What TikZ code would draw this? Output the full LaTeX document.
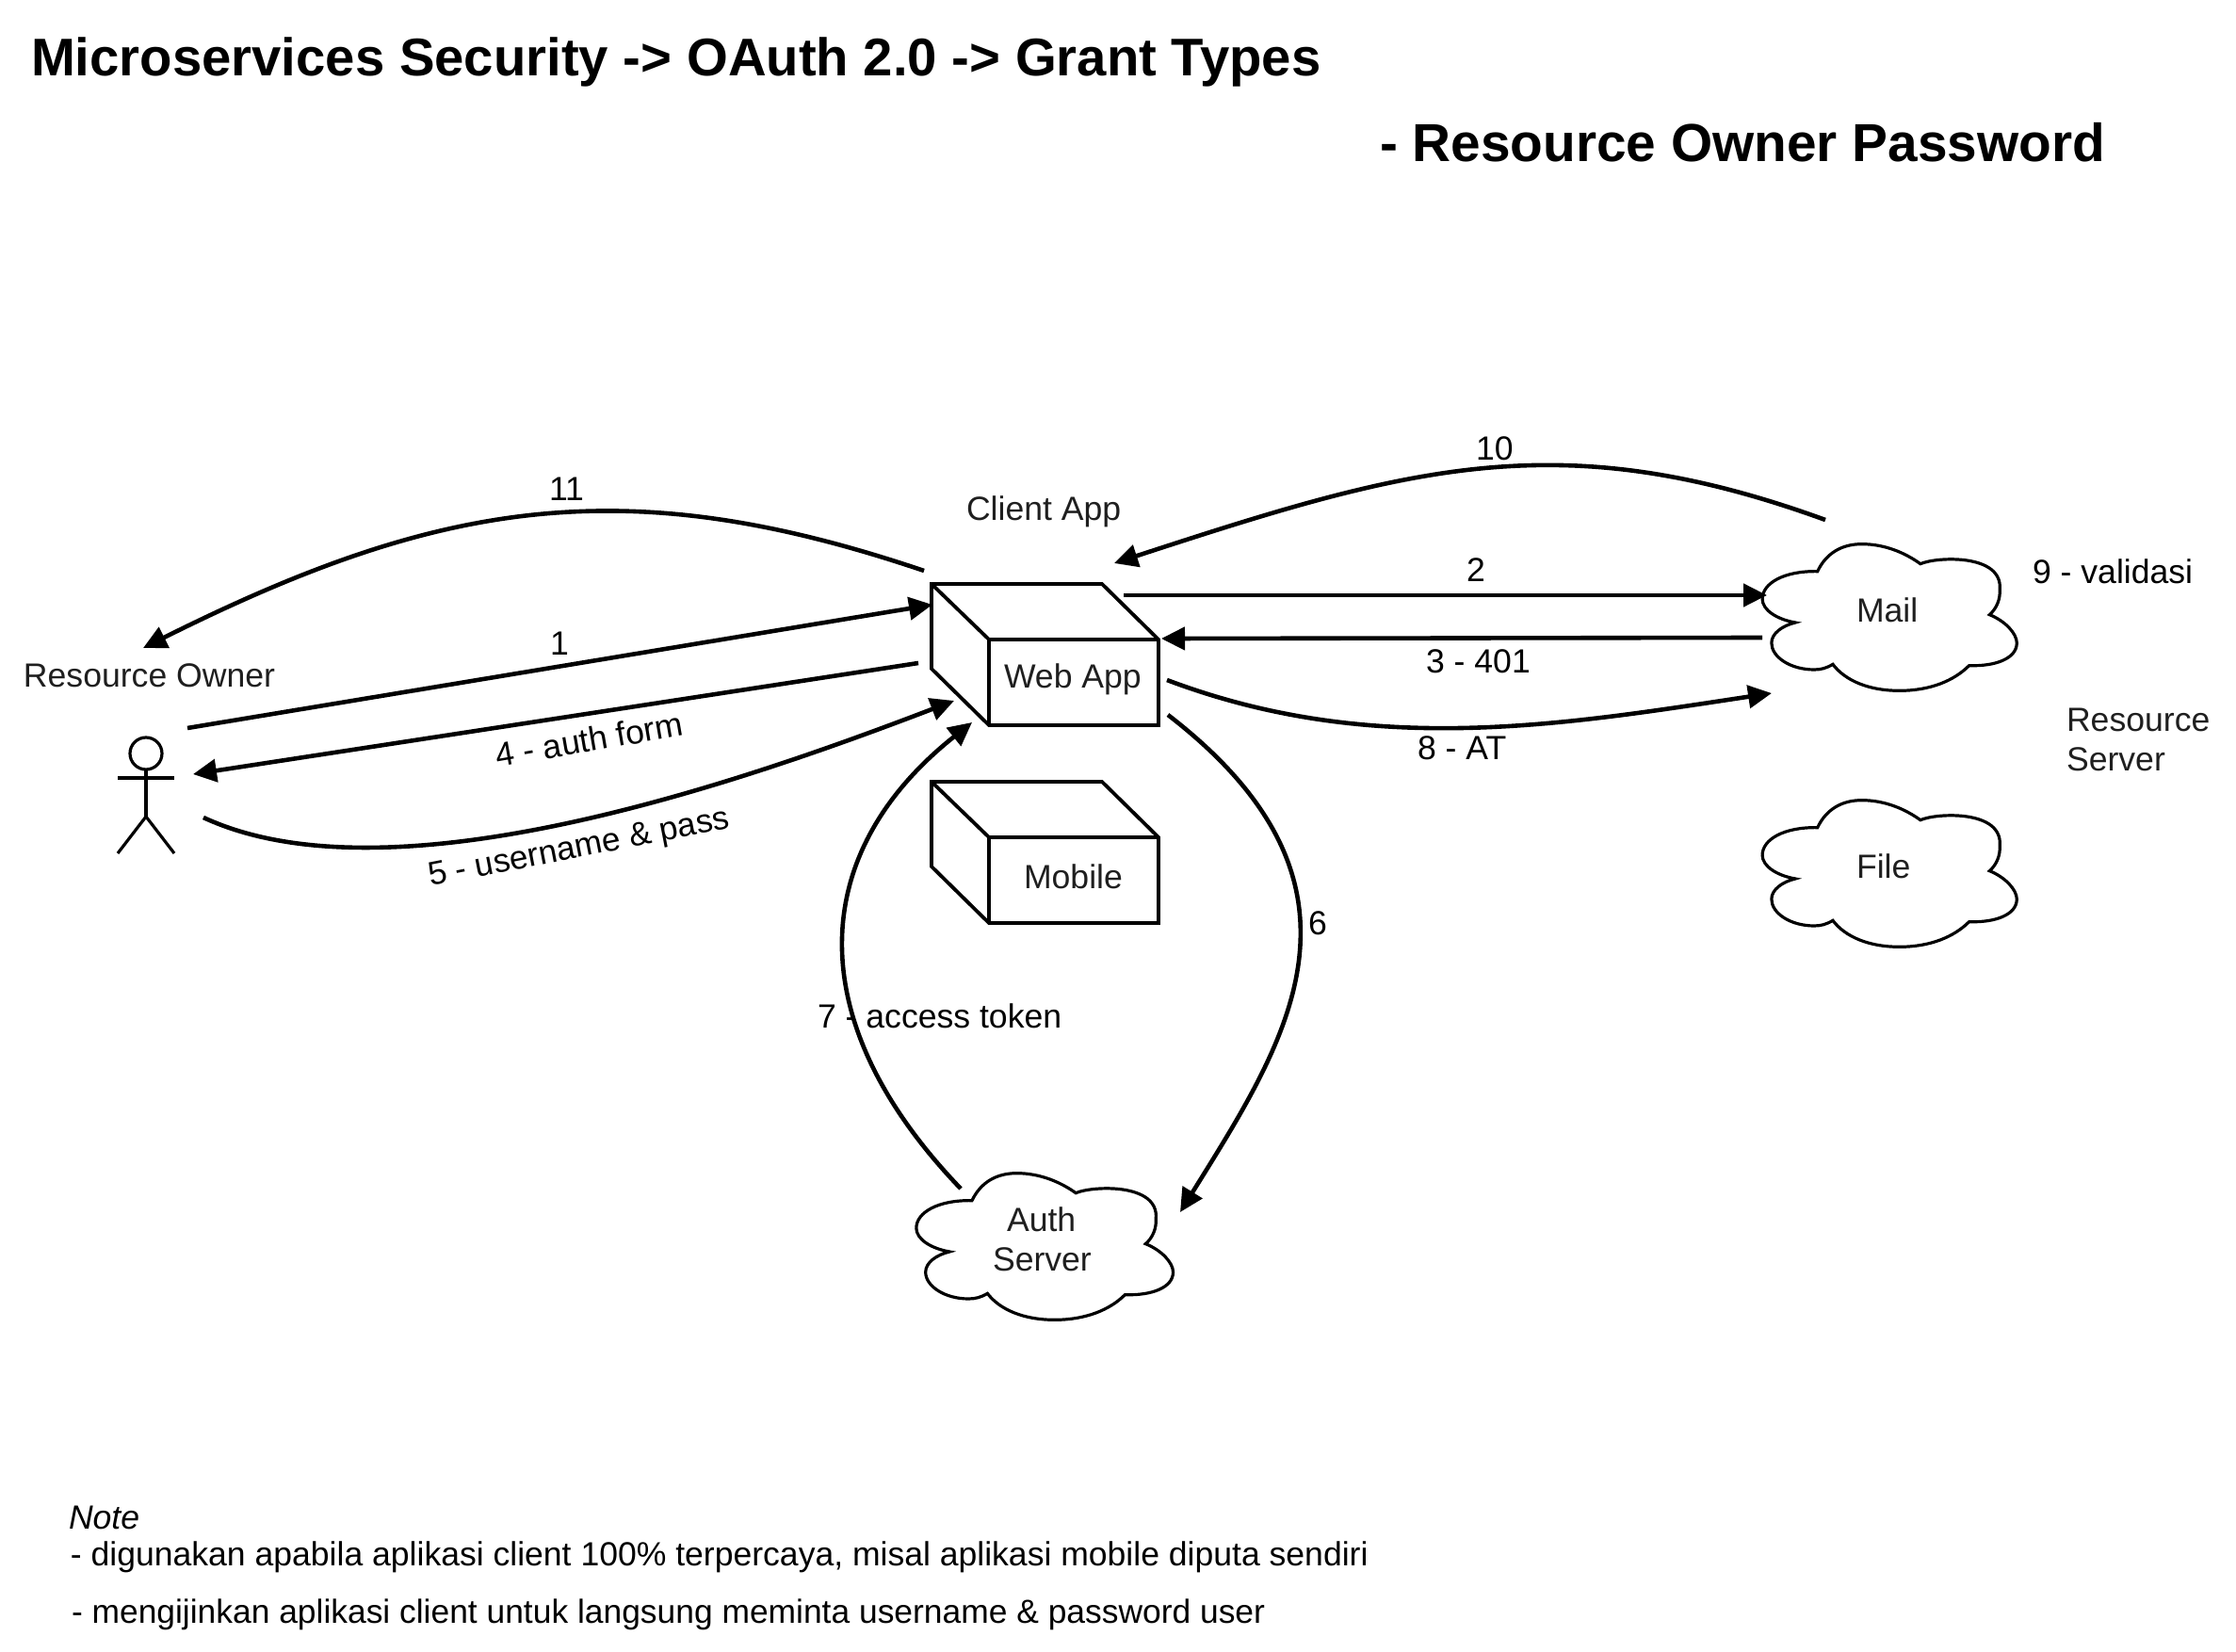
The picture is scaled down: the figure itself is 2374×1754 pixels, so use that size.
\documentclass[tikz,border=0pt]{standalone}
\usepackage{fontspec}
\setmainfont{Liberation Sans}
\usetikzlibrary{arrows.meta}
\tikzset{
  x=0.5pt,y=-0.5pt,
  txt/.style={anchor=base west,inner sep=0pt,outer sep=0pt,font=\fontsize{17.8}{20}\selectfont},
  shapetxt/.style={txt,text=black!88},
  titletxt/.style={anchor=base west,inner sep=0pt,outer sep=0pt,font=\fontsize{28.15}{34}\selectfont\bfseries},
  conn/.style={line width=2.3pt,-{Triangle[length=12.5pt,width=12pt]}},
  outl/.style={line width=1.9pt,line join=miter},
  cloudline/.style={line width=1.6pt,line join=miter,fill=white},
  stick/.style={line width=1.6pt}
}
\newcommand{\cloudshape}[3]{%
 \begin{scope}[shift={(#1,#2)},xscale=#3,yscale=1,x=0.1666667pt,y=-0.1666667pt]
 \draw[cloudline] (-211,-148)
  .. controls (-186,-205) and (-141,-235) .. (-81,-235)
  .. controls (-11,-235) and (49,-205) .. (91,-172)
  .. controls (139,-195) and (334,-205) .. (324,-90)
  .. controls (326,-60) and (315,-30) .. (294,-10)
  .. controls (340,10) and (374,50) .. (374,80)
  .. controls (374,130) and (310,155) .. (234,152)
  .. controls (190,200) and (120,232) .. (29,232)
  .. controls (-60,232) and (-130,200) .. (-166,148)
  .. controls (-185,160) and (-200,165) .. (-221,165)
  .. controls (-290,165) and (-346,125) .. (-346,80)
  .. controls (-346,50) and (-315,25) .. (-276,15)
  .. controls (-330,5) and (-373,-25) .. (-373,-60)
  .. controls (-373,-110) and (-310,-150) .. (-211,-148) -- cycle;
 \end{scope}}
\newcommand{\boxshape}[1]{%
 \begin{scope}[yshift=-#1*0.5pt]
 \draw[outl] (989,620) -- (1170,620) -- (1230,679) -- (1230,770) -- (1050,770) -- (989,710) -- cycle;
 \draw[outl] (989,620) -- (1050,679) -- (1230,679);
 \draw[outl] (1050,679) -- (1050,770);
 \end{scope}}
\begin{document}
\begin{tikzpicture}
\useasboundingbox (0,0) rectangle (2374,1754);
% titles
\node[titletxt] (t1) at (33,81) {Microservices Security -> OAuth 2.0 -> Grant Types};
\node[titletxt,font=\fontsize{28.4}{34}\selectfont\bfseries] (t2) at (1465,172) {- Resource Owner Password};
% shapes
\boxshape{0}
\boxshape{210}
\cloudshape{2006}{656}{1.085}
\cloudshape{2006}{928}{1.085}
\cloudshape{1109}{1324}{1.095}
% stick figure
\draw[stick] (155,800) circle[radius=17];
\draw[stick] (125,826) -- (185,826);
\draw[stick] (155,817) -- (155,867);
\draw[stick] (125,906) -- (155,867) -- (185,906);
% connector ends
\coordinate (a1s) at (199,773); \coordinate (a1e) at (990,642);
\coordinate (a2s) at (1193,632); \coordinate (a2e) at (1876,632);
\coordinate (a3s) at (1871,677); \coordinate (a3e) at (1233,678);
\coordinate (a4s) at (975,704); \coordinate (a4e) at (205,822);
\coordinate (a5s) at (216,868); \coordinate (a5e) at (1013,744);
\coordinate (a6s) at (1240,759); \coordinate (a6e) at (1253,1287);
\coordinate (a7s) at (1020,1262); \coordinate (a7e) at (1032,767);
\coordinate (a8s) at (1239,722); \coordinate (a8e) at (1881,736);
\coordinate (a10s) at (1938,552); \coordinate (a10e) at (1183,598);
\coordinate (a11s) at (981,606); \coordinate (a11e) at (152,688);
\draw[conn] (a1s) -- (a1e);
\draw[conn] (a2s) -- (a2e);
\draw[conn] (a3s) -- (a3e);
\draw[conn] (a4s) -- (a4e);
\draw[conn] (a5s) .. controls (416,961) and (791,829) .. (a5e);
\draw[conn] (a6s) .. controls (1476,941) and (1366,1105) .. (a6e);
\draw[conn] (a7s) .. controls (849,1084) and (857,906) .. (a7e);
\draw[conn] (a8s) .. controls (1456,804) and (1656,770) .. (a8e);
\draw[conn] (a10s) .. controls (1655,449) and (1495,496) .. (a10e);
\draw[conn] (a11s) .. controls (665,499) and (468,530) .. (a11e);
% shape labels
\node[shapetxt] (clientapp) at (1026,553) {Client App};
\node[shapetxt] (owner) at (25,730) {Resource Owner};
\node[shapetxt] (webapp) at (1066,731) {Web App};
\node[shapetxt] (mobile) at (1087,943) {Mobile};
\node[shapetxt] (mail) at (1971,661) {Mail};
\node[shapetxt] (file) at (1971,932) {File};
\node[shapetxt] (rs1) at (2194,777) {Resource};
\node[shapetxt] (rs2) at (2194,819) {Server};
\node[shapetxt] (auth1) at (1069,1307) {Auth};
\node[shapetxt] (auth2) at (1054,1349) {Server};
% edge labels
\node[txt] (l1) at (584,696) {1};
\node[txt] (l2) at (1557,618) {2};
\node[txt] (l3) at (1514,715) {3 - 401};
\node[txt,rotate=9.8] (l4) at (528,815) {4 - auth form};
\node[txt,rotate=11,font=\fontsize{17.6}{20}\selectfont] (l5) at (457,941) {5 - username \& pass};
\node[txt] (l6) at (1389,992) {6};
\node[txt] (l7) at (868,1091) {7 - access token};
\node[txt] (l8) at (1505,807) {8 - AT};
\node[txt] (l9) at (2158,620) {9 - validasi};
\node[txt] (l10) at (1567,489) {10};
\node[txt] (l11) at (583,532) {11};
% notes
\node[txt,font=\fontsize{17.8}{20}\selectfont\itshape] (n0) at (73,1623) {Note};
\node[txt,font=\fontsize{17.78}{20}\selectfont] (n1) at (75,1662) {- digunakan apabila aplikasi client 100\% terpercaya, misal aplikasi mobile diputa sendiri};
\node[txt,font=\fontsize{17.7}{20}\selectfont] (n2) at (76,1723) {- mengijinkan aplikasi client untuk langsung meminta username \& password user};
\end{tikzpicture}
\end{document}
